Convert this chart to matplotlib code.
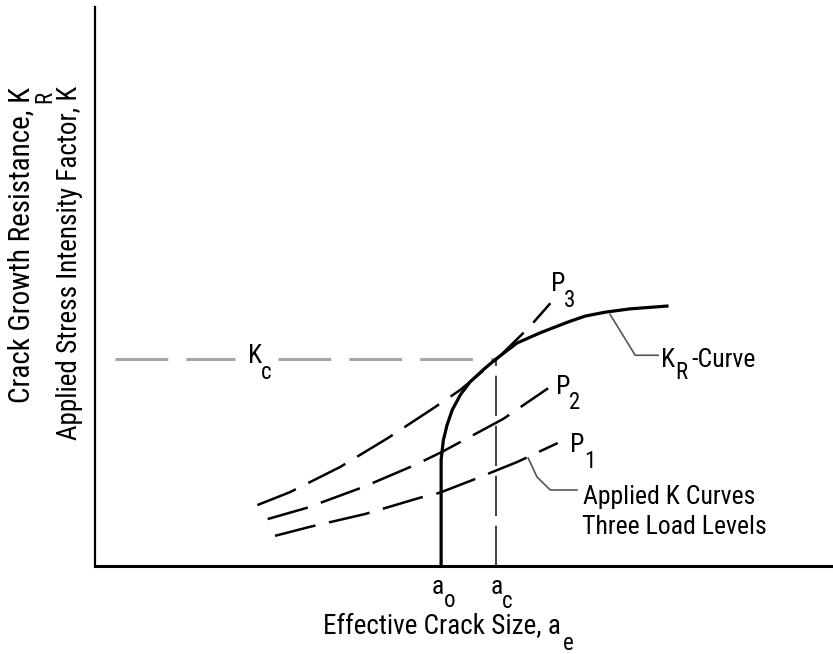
import matplotlib
matplotlib.use("Agg")
import matplotlib.pyplot as plt

plt.rcParams["font.family"] = ["Roboto Condensed", "DejaVu Sans"]
plt.rcParams["lines.scale_dashes"] = False

# schematic units: crack size 0-100, stress intensity 0-100
a_0 = 46.9
a_c = 54.3
K_c = 37.0

r_curve_a = [46.9, 46.9, 47.2, 47.7, 48.4, 49.5, 50.8, 52.6, 54.3, 57.2, 60.3,
             64.0, 66.4, 69.1, 72.5, 77.5]
r_curve_k = [0.0, 19.0, 22.5, 25.2, 27.9, 30.6, 32.9, 35.1, 37.0, 39.9, 41.7,
             43.6, 44.7, 45.4, 46.0, 46.5]

p3_a = [22.0, 26.4, 33.2, 39.7, 45.7, 49.5, 54.2, 58.9, 61.7]
p3_k = [10.9, 13.2, 17.7, 22.9, 28.1, 31.5, 36.7, 42.8, 47.0]
p2_a = [23.4, 28.7, 36.3, 43.4, 47.0, 51.5, 55.3, 61.4]
p2_k = [8.4, 10.4, 14.1, 18.1, 20.4, 23.6, 26.3, 31.8]
p1_a = [24.4, 29.1, 36.6, 44.0, 46.7, 51.2, 57.2, 62.7]
p1_k = [5.4, 7.0, 9.3, 12.2, 13.1, 15.4, 18.6, 22.0]

kc_line_a = [(2.7, 19.0), (24.8, a_c)]   # broken around the K_c label

kr_leader_a = [69.8, 73.2, 76.3]
kr_leader_k = [45.0, 37.7, 37.7]
applied_leader_a = [58.7, 59.9, 61.7, 65.3]
applied_leader_k = [19.3, 15.9, 13.6, 13.6]

FS = 18.5
SUB = 16.5

fig = plt.figure(figsize=(8.33, 6.54), dpi=100)
ax = fig.add_axes([95 / 833, 88 / 654, 738 / 833, 559 / 654])
ax.set_xlim(0, 100)
ax.set_ylim(0, 100)
for s in ("top", "right"):
    ax.spines[s].set_visible(False)
ax.spines["left"].set_linewidth(1.6)
ax.spines["bottom"].set_linewidth(2.2)
ax.set_xticks([])
ax.set_yticks([])

# K_c level and critical crack size
for a_lo, a_hi in kc_line_a:
    ax.plot([a_lo, a_hi], [K_c, K_c], color="#a6a6a6", lw=2.2,
            dashes=(38, 13), solid_capstyle="butt")
ax.plot([a_c, a_c], [0, K_c], color="#333333", lw=1.3, dashes=(29, 7))

# applied K curves
for a, k in ((p3_a, p3_k), (p2_a, p2_k), (p1_a, p1_k)):
    ax.plot(a, k, color="black", lw=1.8, dashes=(30, 10))

# resistance curve
ax.plot(r_curve_a, r_curve_k, color="black", lw=2.3, solid_joinstyle="round")

# leaders
ax.plot(kr_leader_a, kr_leader_k, color="#555555", lw=1.2)
ax.plot(applied_leader_a, applied_leader_k, color="#555555", lw=1.2)


def sub_label(x, y, main, sub, dx, dy, fs=FS, sfs=SUB):
    ax.text(x, y, main, fontsize=fs, ha="center", va="center")
    ax.annotate(sub, (x, y), xytext=(dx, dy), textcoords="offset points",
                fontsize=sfs, ha="center", va="center", annotation_clip=False)


sub_label(21.7, 37.6, "K", "c", 8, -12)
sub_label(62.7, 50.4, "P", "3", 8.5, -11.5)
sub_label(63.4, 32.0, "P", "2", 8.5, -11)
sub_label(65.3, 21.6, "P", "1", 9, -12)
sub_label(77.6, 36.9, "K", "R", 10, -9)
ax.text(80.8, 36.9, "-Curve", fontsize=FS, ha="left", va="center")
ax.text(66.1, 12.3, "Applied K Curves", fontsize=FS, ha="left", va="center")
ax.text(66.0, 7.0, "Three Load Levels", fontsize=FS, ha="left", va="center")

# crack size marks below the axis
sub_label(a_0 - 0.4, -3.8, "a", "o", 8, -9.5)
sub_label(a_c + 0.2, -3.8, "a", "c", 7.5, -10.5)

# axis titles
fig.text(561 / 833, 1 - 627 / 654, "Effective Crack Size, a", fontsize=19.5,
         ha="right", va="center")
fig.text(568 / 833, 1 - 644 / 654, "e", fontsize=SUB, ha="center", va="center")
fig.text(22 / 833, 1 - 403 / 654, "Crack Growth Resistance, K", fontsize=21,
         rotation=90, ha="center", va="bottom")
fig.text(45 / 833, 1 - 97 / 654, "R", fontsize=SUB, rotation=90,
         ha="center", va="center")
fig.text(70 / 833, 1 - 86 / 654, "Applied Stress Intensity Factor, K",
         fontsize=19.5, rotation=90, ha="center", va="top")

fig.savefig("out.png", dpi=100)
